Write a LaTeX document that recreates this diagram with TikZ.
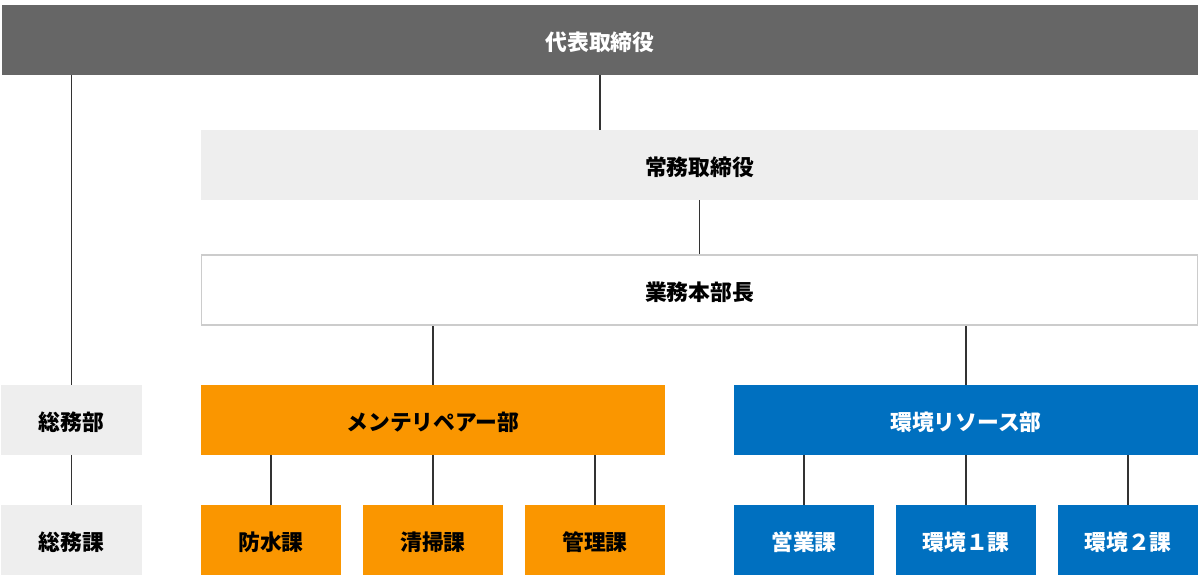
\documentclass[tikz,border=0pt]{standalone}
\usepackage{fontspec}
\setmainfont{Noto Sans CJK JP}
\definecolor{topgray}{HTML}{666666}
\definecolor{lightgray}{HTML}{EEEEEE}
\definecolor{framegray}{HTML}{CCCCCC}
\definecolor{repairorange}{HTML}{FA9600}
\definecolor{resourceblue}{HTML}{0070C0}
\definecolor{linkgray}{HTML}{333333}
\tikzset{
  box/.style={inner sep=0pt, minimum height=1.75cm, text height=16.5pt, text depth=2pt,
    font=\bfseries\fontsize{15.5}{18}\selectfont},
  link/.style={draw=linkgray, line width=0.8pt}
}
\begin{document}
\begin{tikzpicture}[x=0.025cm, y=-0.025cm]
    \useasboundingbox (0,0) rectangle (1200,580);

    % top levels
    \node[box, fill=topgray, text=white, minimum width=29.9cm] (ceo) at (600,40) {代表取締役};
    \node[box, fill=lightgray, minimum width=24.925cm] (jomu) at (699.5,165) {常務取締役};
    \node[box, draw=framegray, line width=1pt, fill=white, minimum width=24.9cm] (honbu) at (699.5,290) {業務本部長};

    % departments
    \node[box, fill=lightgray, minimum width=3.5cm] (somubu) at (71.5,420) {総務部};
    \node[box, fill=repairorange, minimum width=11.6cm] (repair) at (433,420) {メンテリペアー部};
    \node[box, fill=resourceblue, text=white, minimum width=11.6cm] (resource) at (966,420) {環境リソース部};

    % sections
    \node[box, fill=lightgray, minimum width=3.5cm] (somuka) at (71.5,540) {総務課};
    \node[box, fill=repairorange, minimum width=3.5cm] (bosui) at (271,540) {防水課};
    \node[box, fill=repairorange, minimum width=3.5cm] (seiso) at (433,540) {清掃課};
    \node[box, fill=repairorange, minimum width=3.5cm] (kanri) at (595,540) {管理課};
    \node[box, fill=resourceblue, text=white, minimum width=3.5cm] (eigyo) at (804,540) {営業課};
    \node[box, fill=resourceblue, text=white, minimum width=3.5cm] (kankyo1) at (966,540) {環境１課};
    \node[box, fill=resourceblue, text=white, minimum width=3.5cm] (kankyo2) at (1128,540) {環境２課};

    % connectors
    \draw[link] (somubu.north) -- (somubu.north |- ceo.south);
    \draw[link] (jomu.north -| ceo.south) -- (ceo.south);
    \draw[link] (jomu.south) -- (honbu.north);
    \draw[link] (repair.north) -- (repair.north |- honbu.south);
    \draw[link] (resource.north) -- (resource.north |- honbu.south);
    \draw[link] (somubu.south) -- (somuka.north);
    \draw[link] (bosui.north) -- (bosui.north |- repair.south);
    \draw[link] (seiso.north) -- (repair.south);
    \draw[link] (kanri.north) -- (kanri.north |- repair.south);
    \draw[link] (eigyo.north) -- (eigyo.north |- resource.south);
    \draw[link] (kankyo1.north) -- (resource.south);
    \draw[link] (kankyo2.north) -- (kankyo2.north |- resource.south);
\end{tikzpicture}
\end{document}
